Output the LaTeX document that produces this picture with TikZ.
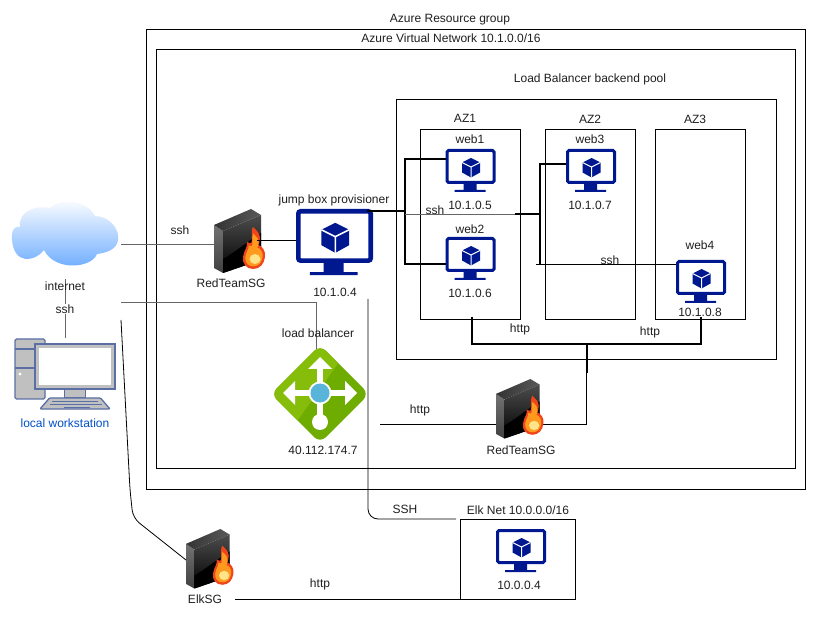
\documentclass[tikz,border=0pt]{standalone}
\usepackage{fontspec}
\setmainfont{Liberation Sans}
\usetikzlibrary{calc}
\definecolor{navy}{HTML}{00188F}
\definecolor{wsline}{HTML}{5A6FA5}
\definecolor{wsfill}{HTML}{C0C0C0}
\definecolor{lblue}{HTML}{0050C8}
\definecolor{cloudblue}{HTML}{66A8FF}
\definecolor{lbdark}{HTML}{6EAC00}
\definecolor{lblight}{HTML}{86BC0A}
\definecolor{lbcore}{HTML}{59B4D9}
\definecolor{flameout}{HTML}{F0451A}
\definecolor{flamemid}{HTML}{FF9A1F}
\definecolor{flamein}{HTML}{FFE48A}
\tikzset{
  lbl/.style={inner sep=0pt,font=\fontsize{12}{14}\selectfont,text=black!88},
  anchorbox/.style={inner sep=0pt,outer sep=0pt,draw=none,anchor=north west},
  boxln/.style={anchorbox,draw=black,line width=0.8pt},
  thin line/.style={draw=black,line width=0.8pt},
  gray line/.style={draw=black!60,line width=0.9pt},
  thick line/.style={draw=black,line width=2pt},
}
\newcommand{\flameshape}{(39,60) .. controls (32,60) and (28,54) .. (29,48)
  .. controls (30,41) and (34,38) .. (33,33) .. controls (36,34) and (38,36) .. (38,30)
  .. controls (38,25) and (37,21) .. (39,18) .. controls (42,21) and (46,24) .. (46,29)
  .. controls (46,32) and (45,34) .. (44.5,36) .. controls (48,37) and (52,42) .. (51,48)
  .. controls (50,55) and (46,60) .. (39,60) -- cycle}
% name, left, top, scale
\newcommand{\monitoricon}[4]{%
  \node[anchorbox,minimum width=50*#4 pt,minimum height=45*#4 pt] (#1) at (#2,#3) {};
  \begin{scope}[shift={(#2,#3)},scale=#4]
    \draw[navy,line width=3*#4 pt,fill=white,rounded corners=1.5*#4 pt] (1.5,1.5) rectangle (48.5,33.5);
    \fill[navy] (18,34) rectangle (31,41) (9,41) -- (40,41) -- (40,43) -- (9,43) -- cycle;
    \fill[navy] (25.5,9) -- (34.5,13.5) -- (34.5,23.5) -- (25.5,28.5) -- (16.5,23.5) -- (16.5,13.5) -- cycle;
    \draw[white,line width=1*#4 pt] (16.5,13.5) -- (25.5,18) -- (34.5,13.5) (25.5,18) -- (25.5,28.5);
  \end{scope}}
% name, left, top, scale
\newcommand{\firewallicon}[4]{%
  \node[anchorbox,minimum width=47*#4 pt,minimum height=64*#4 pt] (#1) at (#2,#3) {};
  \begin{scope}[shift={(#2,#3)},scale=#4]
    \shade[top color=black!55,bottom color=black!75] (0,16) -- (9,22) -- (9,64) -- (0,59) -- cycle;
    \shade[left color=black!80,right color=black!65] (0,16) -- (37,0) -- (47,6) -- (9,22) -- cycle;
    \shade[top color=black!70,bottom color=black] (9,22) -- (47,6) -- (47,51) -- (9,64) -- cycle;
    \fill[black] (9,50) .. controls (20,44) and (30,35) .. (47,24) -- (47,51) -- (9,64) -- cycle;
    \fill[flameout] \flameshape;
    \begin{scope}[shift={(40,48)},scale=.78,shift={(-40,-48)}]
      \fill[flamemid] \flameshape;
    \end{scope}
    \fill[flamein] (41,50) ellipse[x radius=5.5,y radius=5];
  \end{scope}}
\begin{document}
\begin{tikzpicture}[x=1pt,y=-1pt]
\useasboundingbox (0,0) rectangle (839,639);
\fill[white] (0,0) rectangle (839,639);

% containers
\node[boxln,minimum width=659pt,minimum height=460pt] (rg) at (146,29) {};
\node[boxln,minimum width=639pt,minimum height=419pt] (vnet) at (156,49) {};
\node[boxln,minimum width=380pt,minimum height=260pt] (pool) at (396,99) {};
\node[boxln,minimum width=100pt,minimum height=190pt] (az1) at (420.5,129) {};
\node[boxln,minimum width=90pt,minimum height=190pt] (az2) at (545.5,129) {};
\node[boxln,minimum width=90pt,minimum height=190pt] (az3) at (655.5,129) {};
\node[boxln,minimum width=115pt,minimum height=80pt] (elknet) at (460.5,519) {};

% icon anchors needed before connectors
\node[anchorbox,minimum width=106pt,minimum height=65pt] (cloud) at (12,202) {};
\node[anchorbox,minimum width=90pt,minimum height=90pt] (lb) at (275,349) {};
\node[anchorbox,minimum width=102pt,minimum height=71pt] (ws) at (14,338) {};
\coordinate (inA) at (121,244);
\coordinate (inB) at (121,302);
\coordinate (inC) at (121,320);
\coordinate (jbDown) at (368,299);
\coordinate (lbIn) at (380,424);
\coordinate (fwcIn) at (186,560);
\coordinate (fwcOut) at (235,599);

% connectors behind the icons
\firewallicon{fwa}{214}{209}{1}
\firewallicon{fwc}{186}{529}{0.93}
\draw[thin line] (586.5,373) |- (lbIn);
\firewallicon{fwb}{496}{379}{0.93}

\monitoricon{jump}{296}{209}{1.54}
\monitoricon{web1}{445.5}{149}{1}
\monitoricon{web2}{445.5}{237}{1}
\monitoricon{web3}{566}{149}{1}
\monitoricon{web4}{676}{260}{1}
\monitoricon{elk}{496}{529}{1}

\draw[gray line] (inA) -- (fwa.west |- inA);
\draw[draw=black,line width=1pt] ($(fwa.east)+(-4,0)$) -- (jump.west |- fwa.east);
\draw[gray line] (inB) -- (316,302) -- ($(lb.north)+(-4,13)$);
\draw[thin line,rounded corners=10pt] (jbDown) -- (368,519) -- ($(elknet.north west)+(-4.5,0)$);
\draw[thin line,rounded corners=8pt] (inC) -- (130,490) -- (133,518) -- (fwcIn);
\draw[thin line] (fwcOut) -- (elknet.south west);

% jump box to web servers
\coordinate (busA) at (405,214);
\coordinate (busB) at (540,214);
\draw[thick line] ($(jump.north east)+(-6,2)$) -- (404,211);
\draw[thick line] ($(web1.north west)+(0,10)$) -| (405,264) -- ($(web2.north west)+(0,27)$);
\draw[gray line] (busA) -- (515,214);
\draw[thick line] (515,214) -- (busB);
\draw[thick line] ($(web3.north west)+(0,15)$) -| (540,264);
\draw[thin line] (536,264) -- ($(web4.north west)+(0,4)$);

% http bus
\coordinate (busC) at (586.5,344.5);
\draw[thick line] (472,317) |- (701,344.5) -- (701,317);
\draw[thick line] (busC) -- (586.5,373);

% internet link
\coordinate (cloudLow) at (65,279);
\draw[gray line] (cloudLow) -- (65,338);

% cloud
\shade[top color=white,bottom color=cloudblue]
  (44,250) .. controls (35,262) and (14,265) .. (12,240)
  .. controls (11,228) and (16,226) .. (20,227)
  .. controls (18,210) and (38,205) .. (50,208)
  .. controls (58,199) and (85,198) .. (95,216)
  .. controls (108,216) and (120,228) .. (118,240)
  .. controls (117,250) and (105,253) .. (97,254)
  .. controls (92,268) and (55,272) .. (44,250) -- cycle;

% load balancer icon
\begin{scope}[shift={(320,394)}]
  \fill[rounded corners=8pt,lbdark] (0,-49) -- (49,0) -- (0,49) -- (-49,0) -- cycle;
  \begin{scope}
    \clip[rounded corners=8pt] (0,-49) -- (49,0) -- (0,49) -- (-49,0) -- cycle;
    \fill[lblight] (22,-36) -- (-30,37) -- (-60,0) -- (0,-60) -- cycle;
  \end{scope}
  \fill[white] (-2.7,-25) rectangle (2.7,28);
  \fill[white] (-26,-3.7) rectangle (26,1.7);
  \fill[white] (0,-37) -- (12,-25) -- (-12,-25) -- cycle;
  \fill[white] (-37,-1) -- (-25,-13) -- (-25,11) -- cycle;
  \fill[white] (37,-1) -- (25,-13) -- (25,11) -- cycle;
  \fill[white] (0,28) circle[radius=8];
  \fill[white] (0,-1) circle[radius=11.5];
  \fill[lbcore] (0,-1) circle[radius=9.5];
\end{scope}

% workstation icon
\begin{scope}[line width=1.3pt,draw=wsline,fill=wsfill]
  \filldraw[rounded corners=1.5pt] (15,339) rectangle (45,399);
  \draw (15,349) -- (45,349) (15,368) -- (45,368);
  \fill[white] (20,374) circle[radius=1.7];
  \filldraw (64.5,389) rectangle (85.5,398);
  \filldraw[rounded corners=1pt] (49.5,398) -- (100.5,398) -- (110,409) -- (40,409) -- cycle;
  \draw[line width=0.9pt] (52,401) -- (98,401) (50,404) -- (102,404) (64,407) -- (90,407);
  \filldraw[fill=white,line width=1.4pt] (35,344) rectangle (115,389);
  \draw[wsfill,line width=2.4pt] (37.5,346.5) rectangle (112.5,386.5);
\end{scope}

% labels
\node[lbl] (tRG) at (450,20) {Azure Resource group};
\node[lbl] (tVN) at (451,38) {Azure Virtual Network 10.1.0.0/16};
\node[lbl] (tLB) at (590,79) {Load Balancer backend pool};
\node[lbl] (tA1) at (465,118) {AZ1};
\node[lbl] (tA2) at (590,119) {AZ2};
\node[lbl] (tA3) at (695,119) {AZ3};
\node[lbl] (t1) at (470,139) {web1};
\node[lbl] (t1i) at (470,205) {10.1.0.5};
\node[lbl] (t2) at (470,229) {web2};
\node[lbl] (t2i) at (470,293) {10.1.0.6};
\node[lbl] (t3) at (590,139) {web3};
\node[lbl] (t3i) at (590,205) {10.1.0.7};
\node[lbl] (t4) at (700,245) {web4};
\node[lbl] (t4i) at (700,312) {10.1.0.8};
\node[lbl] (tJ) at (334,200) {jump box provisioner};
\node[lbl] (tJi) at (335,292) {10.1.0.4};
\node[lbl] (tLb) at (318,333) {load balancer};
\node[lbl] (tLbi) at (323,450) {40.112.174.7};
\node[lbl] (tF1) at (231,283) {RedTeamSG};
\node[lbl] (tF2) at (521,450) {RedTeamSG};
\node[lbl] (tF3) at (205,599) {ElkSG};
\node[lbl] (tElk) at (518,510) {Elk Net 10.0.0.0/16};
\node[lbl] (tElki) at (519,585) {10.0.0.4};
\node[lbl] (tI) at (65,286) {internet};
\node[lbl,fill=white,inner sep=1pt] (tIs) at (65,309) {ssh};
\node[lbl] (tS1) at (180,230) {ssh};
\node[lbl] (tS2) at (435,210) {ssh};
\node[lbl] (tS3) at (610,260) {ssh};
\node[lbl] (tH1) at (520,329) {http};
\node[lbl] (tH2) at (650,332) {http};
\node[lbl] (tH3) at (420,410) {http};
\node[lbl] (tH4) at (320,584) {http};
\node[lbl] (tSSH) at (405,509) {SSH};
\node[lbl,text=lblue] (tWS) at (65,423) {local workstation};
\end{tikzpicture}
\end{document}
